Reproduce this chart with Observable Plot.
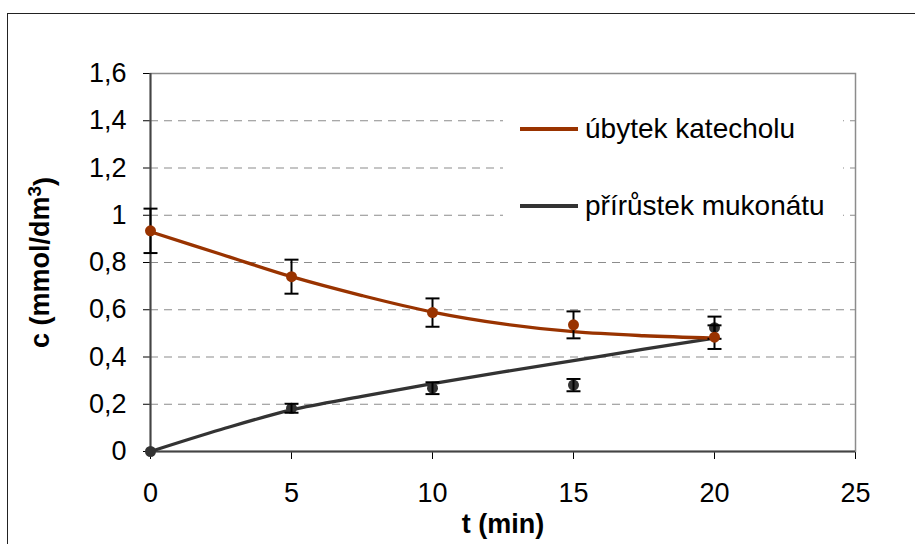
<!DOCTYPE html>
<html>
<head>
<meta charset="utf-8">
<script src="https://cdn.jsdelivr.net/npm/d3@7"></script>
<script src="https://cdn.jsdelivr.net/npm/@observablehq/plot@0.6"></script>
<style>
  html, body { margin: 0; padding: 0; background: #fff; overflow: hidden; }
  #wrap { position: relative; width: 915px; height: 544px; overflow: hidden; font-family: "Liberation Sans", Arial, sans-serif; }
  #border { position: absolute; left: 7px; top: 13px; width: 950px; height: 600px; border-left: 1.5px solid #222; border-top: 1.5px solid #222; pointer-events: none; }
  #legend { position: absolute; left: 503px; top: 100px; width: 340px; height: 124px; background: #fff; }
  .row { position: absolute; left: 17px; display: flex; align-items: center; height: 30px; font-size: 28px; color: #000; }
  .sw { width: 58px; height: 3.5px; margin-right: 7px; }
</style>
</head>
<body>
<div id="wrap">
  <div id="chart"></div>
  <div id="legend"></div>
  <div id="border"></div>
</div>
<script>
// ---- data ----
const t = [0, 5, 10, 15, 20];
const katechol = [0.934, 0.74, 0.588, 0.536, 0.484];
const katecholErr = [0.094, 0.072, 0.06, 0.057, 0.05];
const mukonat = [0, 0.183, 0.268, 0.281, 0.524];
const mukonatErr = [0, 0.019, 0.025, 0.026, 0.047];

const tFit = [0, 2.5, 5, 7.5, 10, 12.5, 15, 17.5, 20];
const katecholFit = [0.93, 0.835, 0.74, 0.66, 0.59, 0.54, 0.507, 0.49, 0.48];
const mukonatFit = [0, 0.093, 0.176, 0.233, 0.287, 0.337, 0.385, 0.433, 0.48];

const seriesNames = ["úbytek katecholu", "přírůstek mukonátu"];
const seriesColors = ["#993300", "#333333"];

const xTicks = [0, 5, 10, 15, 20, 25];
const yTicks = [0, 0.2, 0.4, 0.6, 0.8, 1, 1.2, 1.4, 1.6];
const yTickLabels = ["0", "0,2", "0,4", "0,6", "0,8", "1", "1,2", "1,4", "1,6"];
const xTitle = "t (min)";
const yTitleParts = ["c (mmol/dm", "3", ")"];

// ---- tables ----
const measK = t.map((d, i) => ({t: d, c: katechol[i], err: katecholErr[i]}));
const measM = t.map((d, i) => ({t: d, c: mukonat[i], err: mukonatErr[i]}));
const fitK = tFit.map((d, i) => ({t: d, c: katecholFit[i]}));
const fitM = tFit.map((d, i) => ({t: d, c: mukonatFit[i]}));
const errAll = [...measM, ...measK].filter(d => d.err > 0);
const caps = errAll.flatMap(d => [{t: d.t, y: d.c - d.err}, {t: d.t, y: d.c + d.err}]);

const capSymbol = {draw(ctx) { ctx.moveTo(-7, 0); ctx.lineTo(7, 0); }};

const chart = Plot.plot({
  width: 915,
  height: 544,
  marginLeft: 150,
  marginRight: 60,
  marginTop: 73,
  marginBottom: 93,
  style: {fontFamily: "'Liberation Sans', Arial, sans-serif", fontSize: "27px", color: "#000", background: "transparent", overflow: "visible"},
  x: {domain: [0, 25], ticks: xTicks, tickSize: 8, tickPadding: 23, label: null},
  y: {domain: [0, 1.6], ticks: yTicks, tickFormat: d => yTickLabels[yTicks.indexOf(d)], tickSize: 7, tickPadding: 17, label: null},
  marks: [
    Plot.ruleY(yTicks.filter(v => v > 0 && v < 1.6), {stroke: "#8c8c8c", strokeWidth: 1.2, strokeDasharray: "8,6"}),
    Plot.frame({stroke: "#8c8c8c", strokeWidth: 1.5}),
    Plot.ruleX([0], {stroke: "#444", strokeWidth: 2}),
    Plot.ruleY([0], {stroke: "#444", strokeWidth: 2}),
    Plot.line(fitM, {x: "t", y: "c", stroke: seriesColors[1], strokeWidth: 3.3, curve: "catmull-rom"}),
    Plot.line(fitK, {x: "t", y: "c", stroke: seriesColors[0], strokeWidth: 3.3, curve: "catmull-rom"}),
    Plot.dot(measM, {x: "t", y: "c", r: 5.5, fill: seriesColors[1], stroke: "none"}),
    Plot.ruleX(errAll, {x: "t", y1: d => d.c - d.err, y2: d => d.c + d.err, stroke: "#000", strokeWidth: 2}),
    Plot.dot(caps, {x: "t", y: "y", symbol: capSymbol, stroke: "#000", strokeWidth: 2, fill: "none"}),
    Plot.dot(measK, {x: "t", y: "c", r: 5.5, fill: seriesColors[0], stroke: "none"}),
    Plot.text([xTitle], {frameAnchor: "bottom", dy: 73, lineAnchor: "middle", textAnchor: "middle", fontWeight: "bold", fontSize: 27, fill: "#000"}),
    Plot.text([yTitleParts.join("")], {frameAnchor: "left", dx: -110, rotate: -90, textAnchor: "middle", lineAnchor: "middle", fontWeight: "bold", fontSize: 27, fill: "#000"})
  ]
});
document.getElementById("chart").appendChild(chart);

// superscript in y title
const yt = d3.select(chart).selectAll("text").filter(function() { return this.textContent === yTitleParts.join(""); });
yt.each(function() {
  const el = d3.select(this);
  el.text(null);
  el.append("tspan").text(yTitleParts[0]);
  el.append("tspan").attr("dy", "-0.45em").attr("font-size", "0.7em").text(yTitleParts[1]);
  el.append("tspan").attr("dy", "0.45em").text(yTitleParts[2]);
});

// legend
const legend = document.getElementById("legend");
const rowTops = [14, 91];
seriesNames.forEach((name, i) => {
  const row = document.createElement("div");
  row.className = "row";
  row.style.top = rowTops[i] + "px";
  const sw = document.createElement("div");
  sw.className = "sw";
  sw.style.background = seriesColors[i];
  const tx = document.createElement("span");
  tx.textContent = name;
  row.appendChild(sw);
  row.appendChild(tx);
  legend.appendChild(row);
});
</script>
</body>
</html>
